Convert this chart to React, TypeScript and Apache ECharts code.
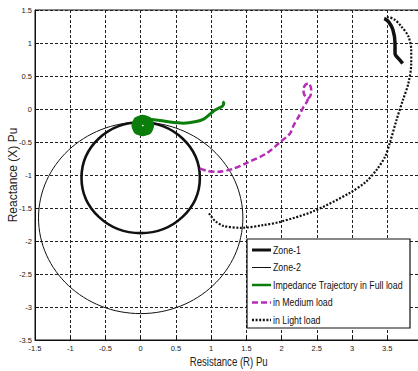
import React, { useEffect, useRef } from "react";
import * as echarts from "echarts";

// Relay zones: [centre R, centre X, radius] in per-unit
const zone1 = [[0, -1.04, 0.84]];
const zone2 = [[0, -1.65, 1.45]];

// Impedance trajectory, full load (settles into a tight spiral near the fault point)
const fullLoad: [number, number][] = [
  [0.065, -0.25], [0.055, -0.225], [0.03, -0.215], [0.005, -0.225], [-0.005, -0.25], [0.005, -0.275], [0.03, -0.285], [0.055, -0.275], [0.065, -0.25],
  [0.10, -0.25], [0.08, -0.195], [0.03, -0.18], [-0.02, -0.195], [-0.04, -0.25], [-0.02, -0.305], [0.03, -0.32], [0.08, -0.305], [0.10, -0.25],
  [0.135, -0.25], [0.105, -0.17], [0.03, -0.145], [-0.045, -0.17], [-0.075, -0.25], [-0.045, -0.33], [0.03, -0.355], [0.105, -0.33], [0.135, -0.25],
  [0.17, -0.25], [0.13, -0.145], [0.03, -0.11], [-0.07, -0.145], [-0.11, -0.25], [-0.07, -0.355], [0.03, -0.39], [0.13, -0.355], [0.17, -0.25],
  [0.15, -0.16], [0.25, -0.17], [0.37, -0.19], [0.60, -0.215], [0.79, -0.19], [0.90, -0.15], [0.96, -0.10],
  [1.05, -0.02], [1.12, 0.02], [1.16, 0.04], [1.18, 0.09], [1.16, 0.11],
];

// Impedance trajectory, medium load
const mediumLoad: [number, number][] = [
  [0.84, -0.90], [0.95, -0.94], [1.10, -0.95], [1.30, -0.91], [1.50, -0.82], [1.79, -0.67], [1.98, -0.50],
  [2.12, -0.37], [2.17, -0.25], [2.24, -0.12], [2.31, 0.03], [2.37, 0.14], [2.32, 0.22], [2.31, 0.30],
  [2.34, 0.37], [2.38, 0.39], [2.42, 0.30], [2.41, 0.20], [2.37, 0.15],
];

// Impedance trajectory, light load
const lightLoad: [number, number][] = [
  [0.97, -1.58], [0.99, -1.61], [1.05, -1.69], [1.17, -1.77], [1.43, -1.80], [1.74, -1.76], [1.98, -1.71],
  [2.45, -1.55], [2.97, -1.27], [3.20, -1.10], [3.35, -0.92], [3.47, -0.72], [3.54, -0.50], [3.63, -0.17],
  [3.72, 0.13], [3.80, 0.39], [3.84, 0.69], [3.84, 0.89], [3.80, 1.10], [3.70, 1.25], [3.61, 1.35],
  [3.51, 1.39], [3.46, 1.37],
];
// Light-load trajectory where it lingers (dense, reads as a solid stroke)
const lightLoadDwell: [number, number][] = [
  [3.46, 1.37], [3.52, 1.32], [3.58, 1.20], [3.61, 1.00], [3.61, 0.84], [3.68, 0.74], [3.72, 0.69],
];

const legendItems = [
  { label: "Zone-1", color: "#111", width: 3, dash: null as number[] | null },
  { label: "Zone-2", color: "#111", width: 1, dash: null },
  { label: "Impedance Trajectory in Full load", color: "#0b7d0b", width: 2.5, dash: null },
  { label: "in Medium load", color: "#b52db5", width: 2.5, dash: [6, 3] },
  { label: "in Light load", color: "#111", width: 2.5, dash: [2, 1.6] },
];

const FONT = "'Liberation Sans', Arial, sans-serif";
// horizontal squeeze applied to the horizontal captions (narrow look)
const SQUEEZE = 0.8;

function circleSeries(data: number[][], lineWidth: number) {
  return {
    type: "custom",
    data,
    silent: true,
    z: 2,
    renderItem: (_params: any, api: any) => {
      const c = api.coord([api.value(0), api.value(1)]);
      const s = api.size([api.value(2), api.value(2)]);
      return {
        type: "ellipse",
        shape: { cx: c[0], cy: c[1], rx: s[0], ry: s[1] },
        style: { fill: "none", stroke: "#111", lineWidth },
      };
    },
  };
}

export default function App() {
  const ref = useRef<HTMLDivElement>(null);

  useEffect(() => {
    if (!ref.current) return;
    const chart = echarts.init(ref.current, undefined, { renderer: "svg" });

    const legendLeft = 247;
    const legendTop = 239;
    const rowH = 17.5;
    const graphics: any[] = [
      {
        type: "rect",
        shape: { x: legendLeft, y: legendTop, width: 163, height: 89 },
        style: { fill: "#fff", stroke: "#111", lineWidth: 1.2 },
        z: 100,
      },
      {
        type: "text",
        x: 228.7,
        y: 362,
        scaleX: SQUEEZE,
        style: {
          text: "Resistance (R) Pu",
          fill: "#222",
          font: `12px ${FONT}`,
          align: "center",
          verticalAlign: "middle",
        },
        z: 100,
      },
      {
        type: "text",
        x: 13,
        y: 175,
        rotation: Math.PI / 2,
        style: {
          text: "Reactance (X) Pu",
          fill: "#222",
          font: `12px ${FONT}`,
          align: "center",
          verticalAlign: "middle",
        },
        z: 100,
      },
    ];
    legendItems.forEach((it, i) => {
      const y = legendTop + 11 + i * rowH;
      graphics.push({
        type: "line",
        shape: { x1: legendLeft + 5, y1: y, x2: legendLeft + 24, y2: y },
        style: { stroke: it.color, lineWidth: it.width, lineDash: it.dash || undefined },
        z: 101,
      });
      graphics.push({
        type: "text",
        x: legendLeft + 26,
        y,
        scaleX: SQUEEZE,
        style: {
          text: it.label,
          fill: "#111",
          font: `11px ${FONT}`,
          verticalAlign: "middle",
          align: "left",
        },
        z: 101,
      });
    });

    chart.setOption({
      animation: false,
      backgroundColor: "#fff",
      grid: {
        left: 35,
        top: 10,
        right: -4.5,
        bottom: 31,
        show: true,
        borderColor: "#111",
        borderWidth: 1,
        containLabel: false,
        outerBoundsMode: "none",
      },
      xAxis: {
        type: "value",
        min: -1.5,
        max: 4,
        interval: 0.5,
        axisLine: { onZero: false, lineStyle: { color: "#111", width: 1 } },
        axisTick: { show: true, inside: true, length: 4, lineStyle: { color: "#111" } },
        axisLabel: { fontFamily: FONT, fontSize: 7.5, color: "#222", margin: 4, showMaxLabel: false },
        splitLine: { show: true, lineStyle: { color: "#222", type: [3, 2], width: 1 } },
      },
      yAxis: {
        type: "value",
        min: -3.5,
        max: 1.5,
        interval: 0.5,
        axisLine: { show: true, onZero: false, lineStyle: { color: "#111", width: 1 } },
        axisTick: { show: true, inside: true, length: 4, lineStyle: { color: "#111" } },
        axisLabel: { fontFamily: FONT, fontSize: 7.5, color: "#222", margin: 3 },
        splitLine: { show: true, lineStyle: { color: "#222", type: [3, 2], width: 1 } },
      },
      series: [
        circleSeries(zone1, 2.6),
        circleSeries(zone2, 1),
        {
          type: "line",
          data: mediumLoad,
          showSymbol: false,
          symbol: "none",
          smooth: 0.3,
          z: 3,
          lineStyle: { color: "#b52db5", width: 2.5, type: [6, 3] },
        },
        {
          type: "line",
          data: lightLoad,
          showSymbol: false,
          symbol: "none",
          smooth: 0.3,
          z: 3,
          lineStyle: { color: "#111", width: 2.2, type: [2, 1.6] },
        },
        {
          type: "line",
          data: lightLoadDwell,
          showSymbol: false,
          symbol: "none",
          smooth: 0.3,
          z: 3,
          lineStyle: { color: "#111", width: 3.5 },
        },
        {
          type: "line",
          data: fullLoad,
          showSymbol: false,
          symbol: "none",
          smooth: 0.2,
          z: 4,
          lineStyle: { color: "#0b7d0b", width: 3 },
        },
      ],
      graphic: graphics,
    });

    return () => chart.dispose();
  }, []);

  return (
    <div
      ref={ref}
      style={{ position: "absolute", left: 0, top: 0, width: 418, height: 371 }}
    />
  );
}
